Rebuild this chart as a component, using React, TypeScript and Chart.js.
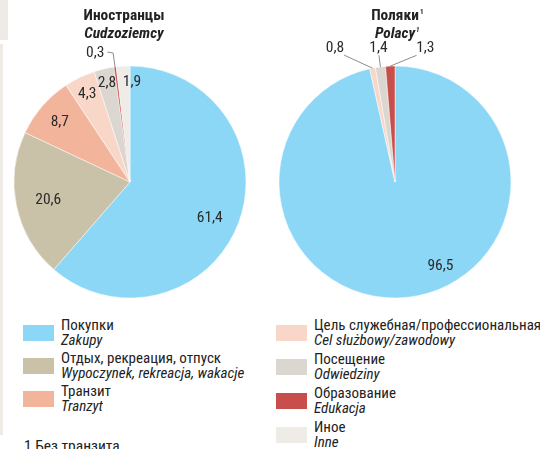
import React, { useEffect, useRef } from "react";
import { Chart, registerables } from "chart.js";

Chart.register(...registerables);

const FONT = '"Roboto Condensed", "Liberation Sans", sans-serif';

// ---- data ----
const categoriesRu = [
  "Покупки",
  "Отдых, рекреация, отпуск",
  "Транзит",
  "Цель служебная/профессиональная",
  "Посещение",
  "Образование",
  "Иное",
];
const categoriesPl = [
  "Zakupy",
  "Wypoczynek, rekreacja, wakacje",
  "Tranzyt",
  "Cel służbowy/zawodowy",
  "Odwiedziny",
  "Edukacja",
  "Inne",
];
const foreignersValues = [61.4, 20.6, 8.7, 4.3, 2.8, 0.3, 1.9];
const polesValues = [96.5, 0, 0, 0.8, 1.4, 1.3, 0];
const sliceColors = ["#8dd7f6", "#c9c1a8", "#f2b59c", "#f8d7c9", "#dbd6cf", "#c84e4b", "#efebe6"];

const leftTitle = ["Иностранцы", "Cudzoziemcy"];
const rightTitle = ["Поляки", "Polacy"];
const footnote = "1 Без транзита";

// label placement styles (relative to each arc)
const foreignersLabelSpecs = [
  { i: 0, f: 0.75, da: 3 },
  { i: 1, f: 0.72, da: 0 },
  { i: 2, f: 0.8, da: 0 },
  { i: 3, f: 0.85, da: 0 },
  { i: 4, f: 0.885, da: 0 },
  { i: 5, out: true, a: -15, f: 1.16, from: "right" },
  { i: 6, f: 0.87, da: 4.5 },
];
const polesLabelSpecs = [
  { i: 0, f: 0.816, da: -22.4 },
  { i: 3, out: true, a: -24, f: 1.273 },
  { i: 4, out: true, a: -7, f: 1.17 },
  { i: 5, out: true, a: 12.7, f: 1.19 },
];

const fmt = (v: number) => v.toFixed(1).replace(".", ",");

const sliceLabels = {
  id: "sliceLabels",
  afterDatasetsDraw(chart: any, _args: any, opts: any) {
    const ctx = chart.ctx;
    const meta = chart.getDatasetMeta(0);
    const values = chart.data.datasets[0].data as number[];
    ctx.save();
    ctx.font = `15.5px ${FONT}`;
    ctx.textAlign = "center";
    ctx.textBaseline = "middle";
    (opts.specs || []).forEach((spec: any) => {
      const arc = meta.data[spec.i];
      const { x, y, startAngle, endAngle, outerRadius } = arc.getProps(
        ["x", "y", "startAngle", "endAngle", "outerRadius"],
        true
      );
      const mid = (startAngle + endAngle) / 2;
      const a = spec.out
        ? (spec.a * Math.PI) / 180 - Math.PI / 2
        : mid + ((spec.da || 0) * Math.PI) / 180;
      const lx = x + Math.cos(a) * outerRadius * spec.f;
      const ly = y + Math.sin(a) * outerRadius * spec.f;
      const text = fmt(values[spec.i]);
      const w = ctx.measureText(text).width;
      if (spec.out) {
        const ex = x + Math.cos(mid) * outerRadius;
        const ey = y + Math.sin(mid) * outerRadius;
        ctx.strokeStyle = "#8c8c8c";
        ctx.lineWidth = 1;
        ctx.beginPath();
        if (spec.from === "right") {
          ctx.moveTo(lx + w / 2 + 3, ly);
          ctx.lineTo(ex - 2, ly + 1);
          ctx.lineTo(ex, ey);
        } else {
          const sx = lx + Math.max(-w / 2, Math.min(w / 2, (ex - lx) * 0.25));
          ctx.moveTo(sx, ly + 8);
          ctx.lineTo(ex, ey);
        }
        ctx.stroke();
      }
      ctx.fillStyle = "#2b2b2b";
      ctx.fillText(text, lx, ly + 1);
    });
    ctx.restore();
  },
};

function PieChart({ values, specs, left }: { values: number[]; specs: any[]; left: number }) {
  const ref = useRef<HTMLCanvasElement>(null);
  useEffect(() => {
    const chart = new Chart(ref.current as HTMLCanvasElement, {
      type: "pie",
      data: {
        labels: categoriesPl,
        datasets: [
          {
            data: values,
            backgroundColor: sliceColors,
            borderColor: "rgba(255,255,255,0.8)",
            borderWidth: 0.6,
          },
        ],
      },
      options: {
        responsive: false,
        animation: false,
        events: [],
        radius: 116,
        layout: { padding: { top: 64 } },
        plugins: {
          legend: { display: false },
          tooltip: { enabled: false },
          sliceLabels: { specs },
        } as any,
      } as any,
      plugins: [sliceLabels as any],
    });
    return () => chart.destroy();
  }, []);
  return (
    <canvas
      ref={ref}
      width={260}
      height={300}
      style={{ position: "absolute", left, top: 0, width: 260, height: 300 }}
    />
  );
}

function Title({ lines, cx, sup }: { lines: string[]; cx: number; sup?: boolean }) {
  const supEl = sup ? (
    <span style={{ fontSize: 7, position: "absolute", top: -3, marginLeft: 1 }}>1</span>
  ) : null;
  return (
    <div
      style={{
        position: "absolute",
        left: cx - 100,
        top: 6,
        width: 200,
        textAlign: "center",
        fontFamily: FONT,
        fontWeight: "bold",
        fontSize: 15.4,
        lineHeight: "18px",
        color: "#222",
      }}
    >
      <div>
        <span style={{ position: "relative" }}>
          {lines[0]}
          {supEl}
        </span>
      </div>
      <div style={{ fontStyle: "italic" }}>
        <span style={{ position: "relative" }}>
          {lines[1]}
          {supEl}
        </span>
      </div>
    </div>
  );
}

function LegendItem({ i, x, top }: { i: number; x: number; top: number }) {
  return (
    <div style={{ position: "absolute", left: x, top, height: 30 }}>
      <div
        style={{
          position: "absolute",
          left: 0,
          top: 7,
          width: 31,
          height: 16,
          background: sliceColors[i],
        }}
      />
      <div
        style={{
          position: "absolute",
          left: 38,
          top: 0,
          whiteSpace: "nowrap",
          fontFamily: FONT,
          fontSize: 15,
          lineHeight: "15px",
          color: "#222",
        }}
      >
        <div>{categoriesRu[i]}</div>
        <div style={{ fontStyle: "italic" }}>{categoriesPl[i]}</div>
      </div>
    </div>
  );
}

export default function App() {
  const leftIdx = [0, 1, 2];
  const rightIdx = [3, 4, 5, 6];
  return (
    <div
      style={{
        position: "absolute",
        left: 0,
        top: 0,
        width: 540,
        height: 449,
        overflow: "hidden",
        background: "#ffffff",
      }}
    >
      <div style={{ position: "absolute", left: 0, top: 0, width: 8, height: 40, background: "#eeebe6" }} />
      <div style={{ position: "absolute", left: 0, top: 44, width: 3, height: 391, background: "#eeebe6" }} />
      <PieChart values={foreignersValues} specs={foreignersLabelSpecs} left={0} />
      <PieChart values={polesValues} specs={polesLabelSpecs} left={265} />
      <Title lines={leftTitle} cx={124} />
      <Title lines={rightTitle} cx={395} sup />
      {leftIdx.map((i, k) => (
        <LegendItem key={i} i={i} x={23} top={318 + k * 33} />
      ))}
      {rightIdx.map((i, k) => (
        <LegendItem key={i} i={i} x={276} top={318 + k * 34} />
      ))}
      <div
        style={{
          position: "absolute",
          left: 24,
          top: 437,
          fontFamily: FONT,
          fontSize: 15.5,
          lineHeight: "18px",
          color: "#222",
          whiteSpace: "nowrap",
        }}
      >
        {footnote}
      </div>
    </div>
  );
}
